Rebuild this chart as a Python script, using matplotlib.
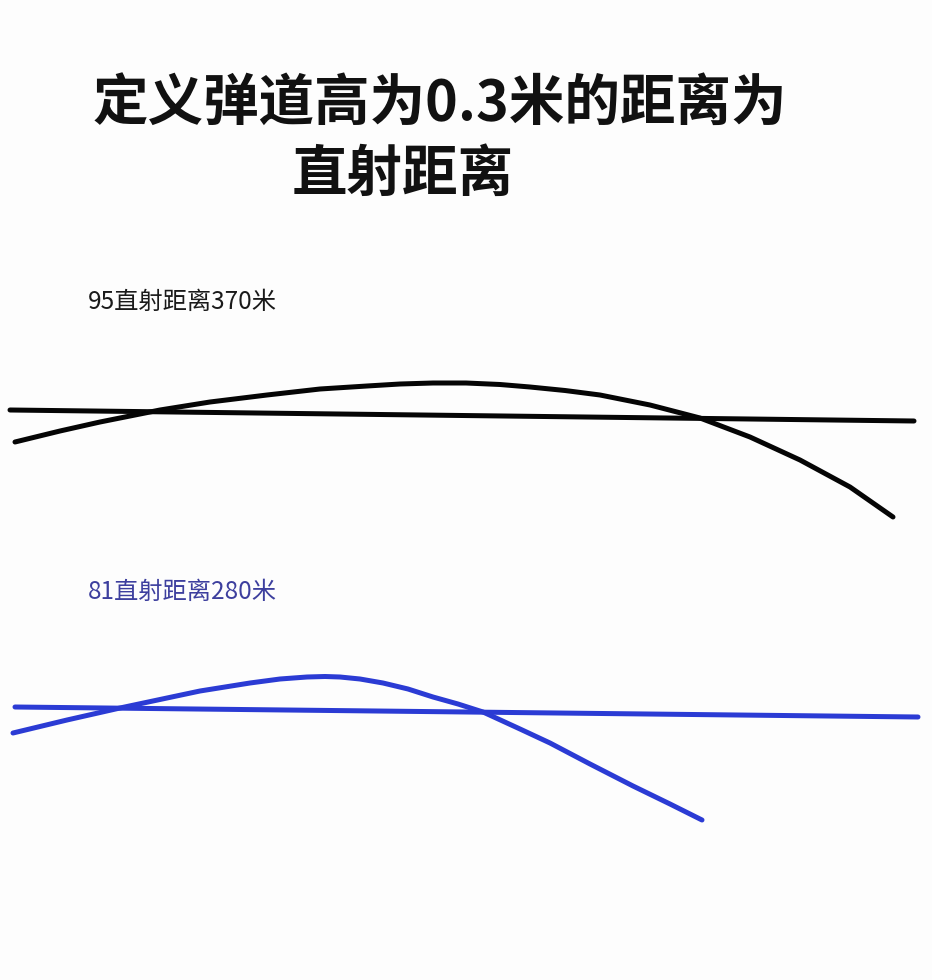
import matplotlib
matplotlib.use("Agg")
import matplotlib.pyplot as plt

plt.rcParams['font.family'] = ['Noto Sans CJK SC', 'DejaVu Sans']

# Title and labels
title_line1 = "定义弹道高为0.3米的距离为"
title_line2 = "直射距离"
label_95 = "95直射距离370米"
label_81 = "81直射距离280米"

# 95 rifle: line of sight (x, y in picture units) and trajectory
los95_x = [10, 914]
los95_y = [410, 421]
traj95_x = [15, 60, 100, 160, 210, 267, 320, 367, 400, 433, 466, 500, 530, 565, 600, 650, 700, 750, 800, 850, 893]
traj95_y = [442, 431, 422, 410, 402, 395, 389, 386, 384, 383, 383, 384.5, 387, 390.5, 395, 405, 418, 437, 460, 487, 517]

# 81 rifle: line of sight and trajectory
los81_x = [15, 918]
los81_y = [707, 717]
traj81_x = [13, 67, 120, 167, 200, 250, 280, 307, 325, 340, 360, 383, 408, 433, 458, 483, 520, 550, 590, 633, 670, 702]
traj81_y = [733, 720, 708, 698, 691, 683, 679, 677, 676.5, 677, 679, 683, 689, 697, 704, 712, 729, 743, 764, 786, 804, 820]

BLACK = "#050505"
BLUE = "#2b3bd4"
BLUE_TEXT = "#3d3f9e"

fig = plt.figure(figsize=(9.32, 9.80), dpi=100)
fig.patch.set_facecolor("#fdfdfd")
ax = fig.add_axes([0, 0, 1, 1])
ax.set_xlim(0, 932)
ax.set_ylim(980, 0)
ax.axis("off")

ax.text(93, 104, title_line1, fontsize=40, fontweight="bold", color="#111111",
        ha="left", va="center")
ax.text(292, 175, title_line2, fontsize=40, fontweight="bold", color="#111111",
        ha="left", va="center")

ax.text(88, 302, label_95, fontsize=17.5, color="#1a1a1a", ha="left", va="center")
ax.text(88, 592, label_81, fontsize=17.5, color=BLUE_TEXT, ha="left", va="center")

lw = 3.6
ax.plot(los95_x, los95_y, color=BLACK, lw=lw, solid_capstyle="round")
ax.plot(traj95_x, traj95_y, color=BLACK, lw=lw, solid_capstyle="round", solid_joinstyle="round")
ax.plot(los81_x, los81_y, color=BLUE, lw=lw, solid_capstyle="round")
ax.plot(traj81_x, traj81_y, color=BLUE, lw=lw, solid_capstyle="round", solid_joinstyle="round")

fig.savefig("out.png", dpi=100, facecolor=fig.get_facecolor())
